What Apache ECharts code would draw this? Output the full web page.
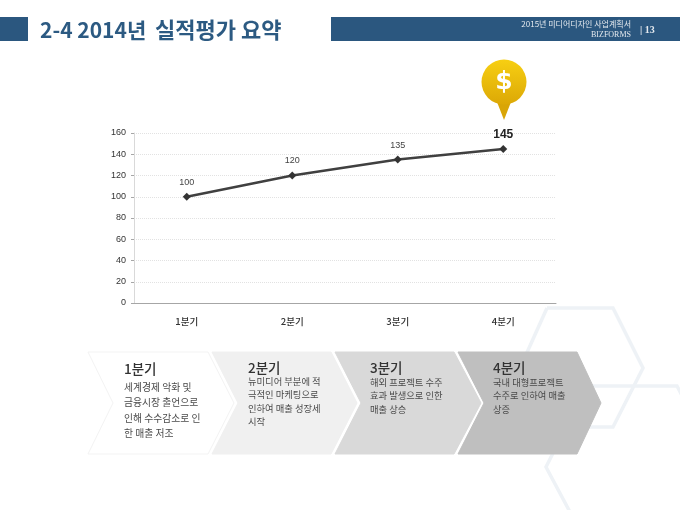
<!DOCTYPE html>
<html><head><meta charset="utf-8">
<style>html,body{margin:0;padding:0;background:#fff}#c{width:680px;height:510px}</style>
<script src="https://cdn.jsdelivr.net/npm/echarts@6/dist/echarts.min.js"></script>
</head><body><div id="c"></div>
<script>
const categories = ['1분기','2분기','3분기','4분기'];
const values = [100,120,135,145];
const titleHead = '2-4 2014년';
const titleTail = '실적평가 요약';
const headerLines = ['2015년 미디어디자인 사업계획서','BIZFORMS'];
const pageNo = '| 13';
const q1Lines = ['세계경제 악화 및','금융시장 출언으로','인해 수수감소로 인','한 매출 저조'];
const q2Lines = ['뉴미디어 부분에 적','극적인 마케팅으로','인하여 매출 성장세','시작'];
const q3Lines = ['해외 프로젝트 수주','효과 발생으로 인한','매출 상승'];
const q4Lines = ['국내 대형프로젝트','수주로 인하여 매출','상증'];
const FONT = '"Noto Sans CJK KR","Noto Sans",sans-serif';
const NAVY = '#2b577f';

const hexColor = '#eef2f6';
const chevrons = [
  {pts:[[88,352],[208,352],[234,403],[208,454],[88,454],[113,403]],fill:'#ffffff',stroke:'#f3f3f3'},
  {pts:[[212,352],[331,352],[357,403],[331,454],[212,454],[238,403]],fill:'#f0f0f0'},
  {pts:[[335,352],[454,352],[481,403],[454,454],[335,454],[361,403]],fill:'#d9d9d9'},
  {pts:[[458,352],[577,352],[601,403],[577,454],[458,454],[484,403]],fill:'#bfbfbf'}
];
const blocks = [
  {x:124,hy:369,size:9.8,lines:q1Lines,ly:[387,402.5,418,433]},
  {x:248,hy:368,size:9.3,lines:q2Lines,ly:[381,394,408,421]},
  {x:370,hy:368,size:9.3,lines:q3Lines,ly:[382,395,409]},
  {x:493,hy:368,size:9.3,lines:q4Lines,ly:[382,395,409]}
];
const gfx = [];
// decorative hexagons
gfx.push({type:'polyline',z:0,shape:{points:[[547,308],[613,308],[643,368],[613,427],[547,427],[520,368],[547,308]]},style:{fill:'none',stroke:hexColor,lineWidth:3.5}});
gfx.push({type:'polyline',z:0,shape:{points:[[720,467],[677,386],[587,386],[546,467],[570,512]]},style:{fill:'none',stroke:hexColor,lineWidth:3.5}});
// header
gfx.push({type:'rect',shape:{x:0,y:17,width:28,height:24},style:{fill:NAVY}});
gfx.push({type:'rect',shape:{x:331,y:17,width:349,height:24},style:{fill:NAVY}});
gfx.push({type:'text',x:40,y:30,style:{text:titleHead,font:'bold 21px '+FONT,fill:'#2c5a82',textVerticalAlign:'middle'}});
gfx.push({type:'text',x:155,y:30,style:{text:titleTail,font:'bold 22px '+FONT,fill:'#2c5a82',textVerticalAlign:'middle'}});
gfx.push({type:'text',x:631,y:23.5,style:{text:headerLines[0],font:'8px '+FONT,fill:'#e4e9ee',textAlign:'right',textVerticalAlign:'middle'}});
gfx.push({type:'text',x:631,y:35,style:{text:headerLines[1],font:'8px "Liberation Serif",serif',fill:'#e4e9ee',textAlign:'right',textVerticalAlign:'middle'}});
gfx.push({type:'text',x:640,y:30,style:{text:pageNo,font:'bold 10px "Liberation Serif",serif',fill:'#e4e9ee',textVerticalAlign:'middle'}});
// pin
gfx.push({type:'polygon',z:5,shape:{points:[[497,102],[511,102],[504,120]]},style:{fill:'#d9a506'}});
gfx.push({type:'circle',z:6,shape:{cx:504,cy:82,r:22.5},style:{fill:new echarts.graphic.LinearGradient(0,0,0,1,[{offset:0,color:'#f7cf12'},{offset:1,color:'#dca806'}])}});
gfx.push({type:'text',z:7,x:504,y:82,style:{text:'$',font:'bold 25px "DejaVu Sans",sans-serif',fill:'#fff',textAlign:'center',textVerticalAlign:'middle'}});
// chevrons
chevrons.forEach(c=>gfx.push({type:'polygon',z:2,shape:{points:c.pts},style:{fill:c.fill,stroke:c.stroke||c.fill,lineWidth:1}}));
blocks.forEach((b,i)=>{
  gfx.push({type:'text',z:3,x:b.x,y:b.hy,style:{text:categories[i],font:'500 13.5px '+FONT,fill:'#333',textVerticalAlign:'middle'}});
  b.lines.forEach((t,j)=>gfx.push({type:'text',z:3,x:b.x,y:b.ly[j],style:{text:t,font:b.size+'px '+FONT,fill:'#4a4a4a',textVerticalAlign:'middle'}}));
});
const chart = echarts.init(document.getElementById('c'),null,{renderer:'canvas'});
chart.setOption({
  animation:false,
  backgroundColor:'#fff',
  grid:{left:134,right:124,top:133,bottom:207,containLabel:false},
  xAxis:{type:'category',data:categories,boundaryGap:true,
    axisLine:{lineStyle:{color:'#a6a6a6',width:1}},axisTick:{show:false},
    axisLabel:{margin:14,fontSize:9.5,fontWeight:500,color:'#333',fontFamily:FONT},splitLine:{show:false}},
  yAxis:{type:'value',min:0,max:160,interval:20,
    axisLine:{show:true,lineStyle:{color:'#d9d9d9',width:1}},axisTick:{show:true,length:3,lineStyle:{color:'#a6a6a6'}},
    axisLabel:{margin:8,fontSize:9,color:'#333',fontFamily:'"Liberation Sans",sans-serif'},
    splitLine:{show:true,lineStyle:{color:'#e2e2e2',type:'dotted',width:1}}},
  series:[{type:'line',data:values.map((v,i)=>i===values.length-1?{value:v,label:{fontSize:12,fontWeight:'bold',color:'#222',distance:4}}:v),
    symbol:'diamond',symbolSize:8,
    lineStyle:{color:'#404040',width:2.5},itemStyle:{color:'#333'},
    label:{show:true,position:'top',distance:6,fontSize:9,color:'#444',fontFamily:'"Liberation Sans",sans-serif'},z:4}],
  graphic:{elements:gfx}
});
</script></body></html>
